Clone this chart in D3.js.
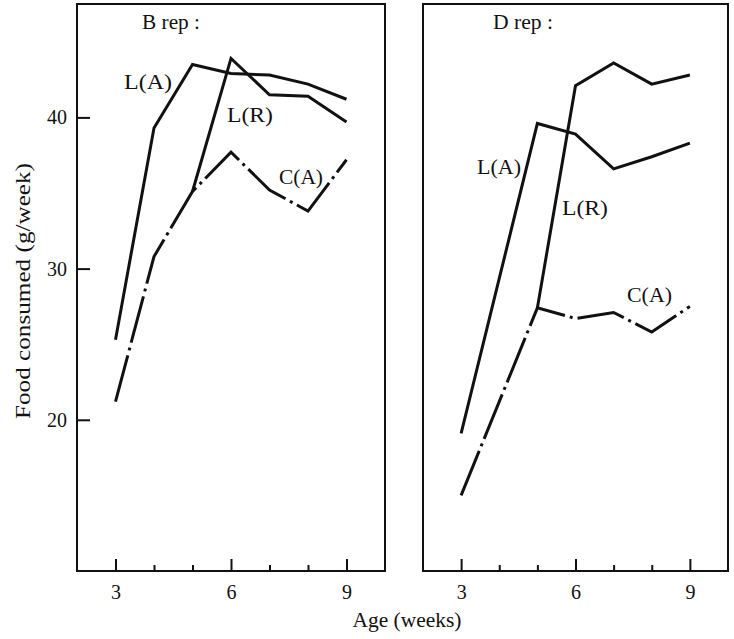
<!DOCTYPE html>
<html>
<head>
<meta charset="utf-8">
<script src="https://cdn.jsdelivr.net/npm/d3@7"></script>
<style>
  html, body { margin: 0; padding: 0; background: #fff; }
  svg { display: block; }
  text { font-family: "Liberation Serif", "Times New Roman", serif; fill: #111; }
</style>
</head>
<body>
<svg id="chart" width="734" height="639"></svg>
<script>
// ---- data ----
const weeksAll = [3, 4, 5, 6, 7, 8, 9];
const majorTicks = [3, 6, 9];
const minorTicks = [4, 5, 7, 8];
const yTicks = [20, 30, 40];

// B rep panel
const bLA_weeks = [3, 4, 5, 6, 7, 8, 9];
const bLA = [25.3, 39.3, 43.5, 42.9, 42.8, 42.2, 41.2];
const bLR_weeks = [5, 6, 7, 8, 9];
const bLR = [35.1, 43.9, 41.5, 41.4, 39.7];
const bCA_weeks = [3, 4, 5, 6, 7, 8, 9];
const bCA = [21.2, 30.8, 35.1, 37.7, 35.2, 33.8, 37.2];

// D rep panel
const dLA_weeks = [3, 5, 6, 7, 8, 9];
const dLA = [19.1, 39.6, 38.9, 36.6, 37.4, 38.3];
const dLR_weeks = [5, 6, 7, 8, 9];
const dLR = [27.4, 42.1, 43.6, 42.2, 42.8];
const dCA_weeks = [3, 5, 6, 7, 8, 9];
const dCA = [15.0, 27.4, 26.7, 27.1, 25.8, 27.5];

const panelTitles = ["B rep :", "D rep :"];
const seriesNames = ["L(A)", "L(R)", "C(A)"];
const xTitle = "Age (weeks)";
const yTitle = "Food consumed (g/week)";

// ---- drawing ----
const svg = d3.select("#chart");
const ink = "#111";
const yScale = d3.scaleLinear().domain([10, 47.5]).range([571, 4]);

function zip(ws, vs) { return ws.map((w, i) => ({ w, v: vs[i] })); }

function panel(x0, x1, series, showY) {
  const x = d3.scaleLinear().domain([2, 10]).range([x0, x1]);
  const g = svg.append("g");

  // frame
  g.append("rect")
    .attr("x", x0).attr("y", yScale.range()[1])
    .attr("width", x1 - x0).attr("height", yScale.range()[0] - yScale.range()[1])
    .attr("fill", "none").attr("stroke", ink).attr("stroke-width", 2);

  // x axis major ticks (inward) with labels
  const axMaj = g.append("g").attr("transform", `translate(0,${yScale.range()[0]})`)
    .call(d3.axisBottom(x).tickValues(majorTicks).tickSize(-12).tickPadding(14).tickFormat(d3.format("d")));
  const axMin = g.append("g").attr("transform", `translate(0,${yScale.range()[0]})`)
    .call(d3.axisBottom(x).tickValues(minorTicks).tickSize(-6).tickFormat(""));
  [axMaj, axMin].forEach(a => {
    a.select(".domain").remove();
    a.selectAll("line").attr("stroke", ink).attr("stroke-width", 2);
    a.selectAll("text").attr("font-size", 20).attr("fill", ink)
      .attr("font-family", "Liberation Serif, serif");
  });

  if (showY) {
    const ay = g.append("g").attr("transform", `translate(${x0},0)`)
      .call(d3.axisLeft(yScale).tickValues(yTicks).tickSize(-13).tickPadding(10).tickFormat(d3.format("d")));
    ay.select(".domain").remove();
    ay.selectAll("line").attr("stroke", ink).attr("stroke-width", 2);
    ay.selectAll("text").attr("font-size", 20).attr("fill", ink)
      .attr("font-family", "Liberation Serif, serif");
  }

  const line = d3.line().x(d => x(d.w)).y(d => yScale(d.v)).curve(d3.curveLinear);
  series.forEach(s => {
    g.append("path")
      .datum(s.data)
      .attr("d", line)
      .attr("fill", "none")
      .attr("stroke", ink)
      .attr("stroke-width", 3)
      .attr("stroke-linejoin", "miter")
      .attr("stroke-dasharray", s.dash || null);
  });
  return { g, x };
}

const dashDot = "48,5,3,5";

const left = panel(77, 385, [
  { data: zip(bLA_weeks, bLA) },
  { data: zip(bLR_weeks, bLR) },
  { data: zip(bCA_weeks, bCA), dash: dashDot }
], true);

const right = panel(423, 728, [
  { data: zip(dLA_weeks, dLA) },
  { data: zip(dLR_weeks, dLR) },
  { data: zip(dCA_weeks, dCA), dash: dashDot }
], false);

function label(g, txt, x, y, len) {
  const t = g.append("text").attr("x", x).attr("y", y)
    .attr("font-size", 20).text(txt);
  if (len) t.attr("textLength", len).attr("lengthAdjust", "spacingAndGlyphs");
  return t;
}

// panel titles
label(left.g, panelTitles[0], 142, 29, 58);
label(right.g, panelTitles[1], 493, 29, 60);

// series labels - B rep
label(left.g, seriesNames[0], 124, 89, 48);
label(left.g, seriesNames[1], 227, 122, 46);
label(left.g, seriesNames[2], 279, 184, 44);
// series labels - D rep
label(right.g, seriesNames[0], 477, 174, 44);
label(right.g, seriesNames[1], 562, 215, 46);
label(right.g, seriesNames[2], 627, 302, 45);

// axis titles
svg.append("text").attr("x", 407).attr("y", 627).attr("text-anchor", "middle")
  .attr("font-size", 20).attr("textLength", 109).attr("lengthAdjust", "spacingAndGlyphs")
  .text(xTitle);
svg.append("text").attr("transform", "translate(30,291) rotate(-90)")
  .attr("text-anchor", "middle").attr("font-size", 20)
  .attr("textLength", 256).attr("lengthAdjust", "spacingAndGlyphs")
  .text(yTitle);
</script>
</body>
</html>
